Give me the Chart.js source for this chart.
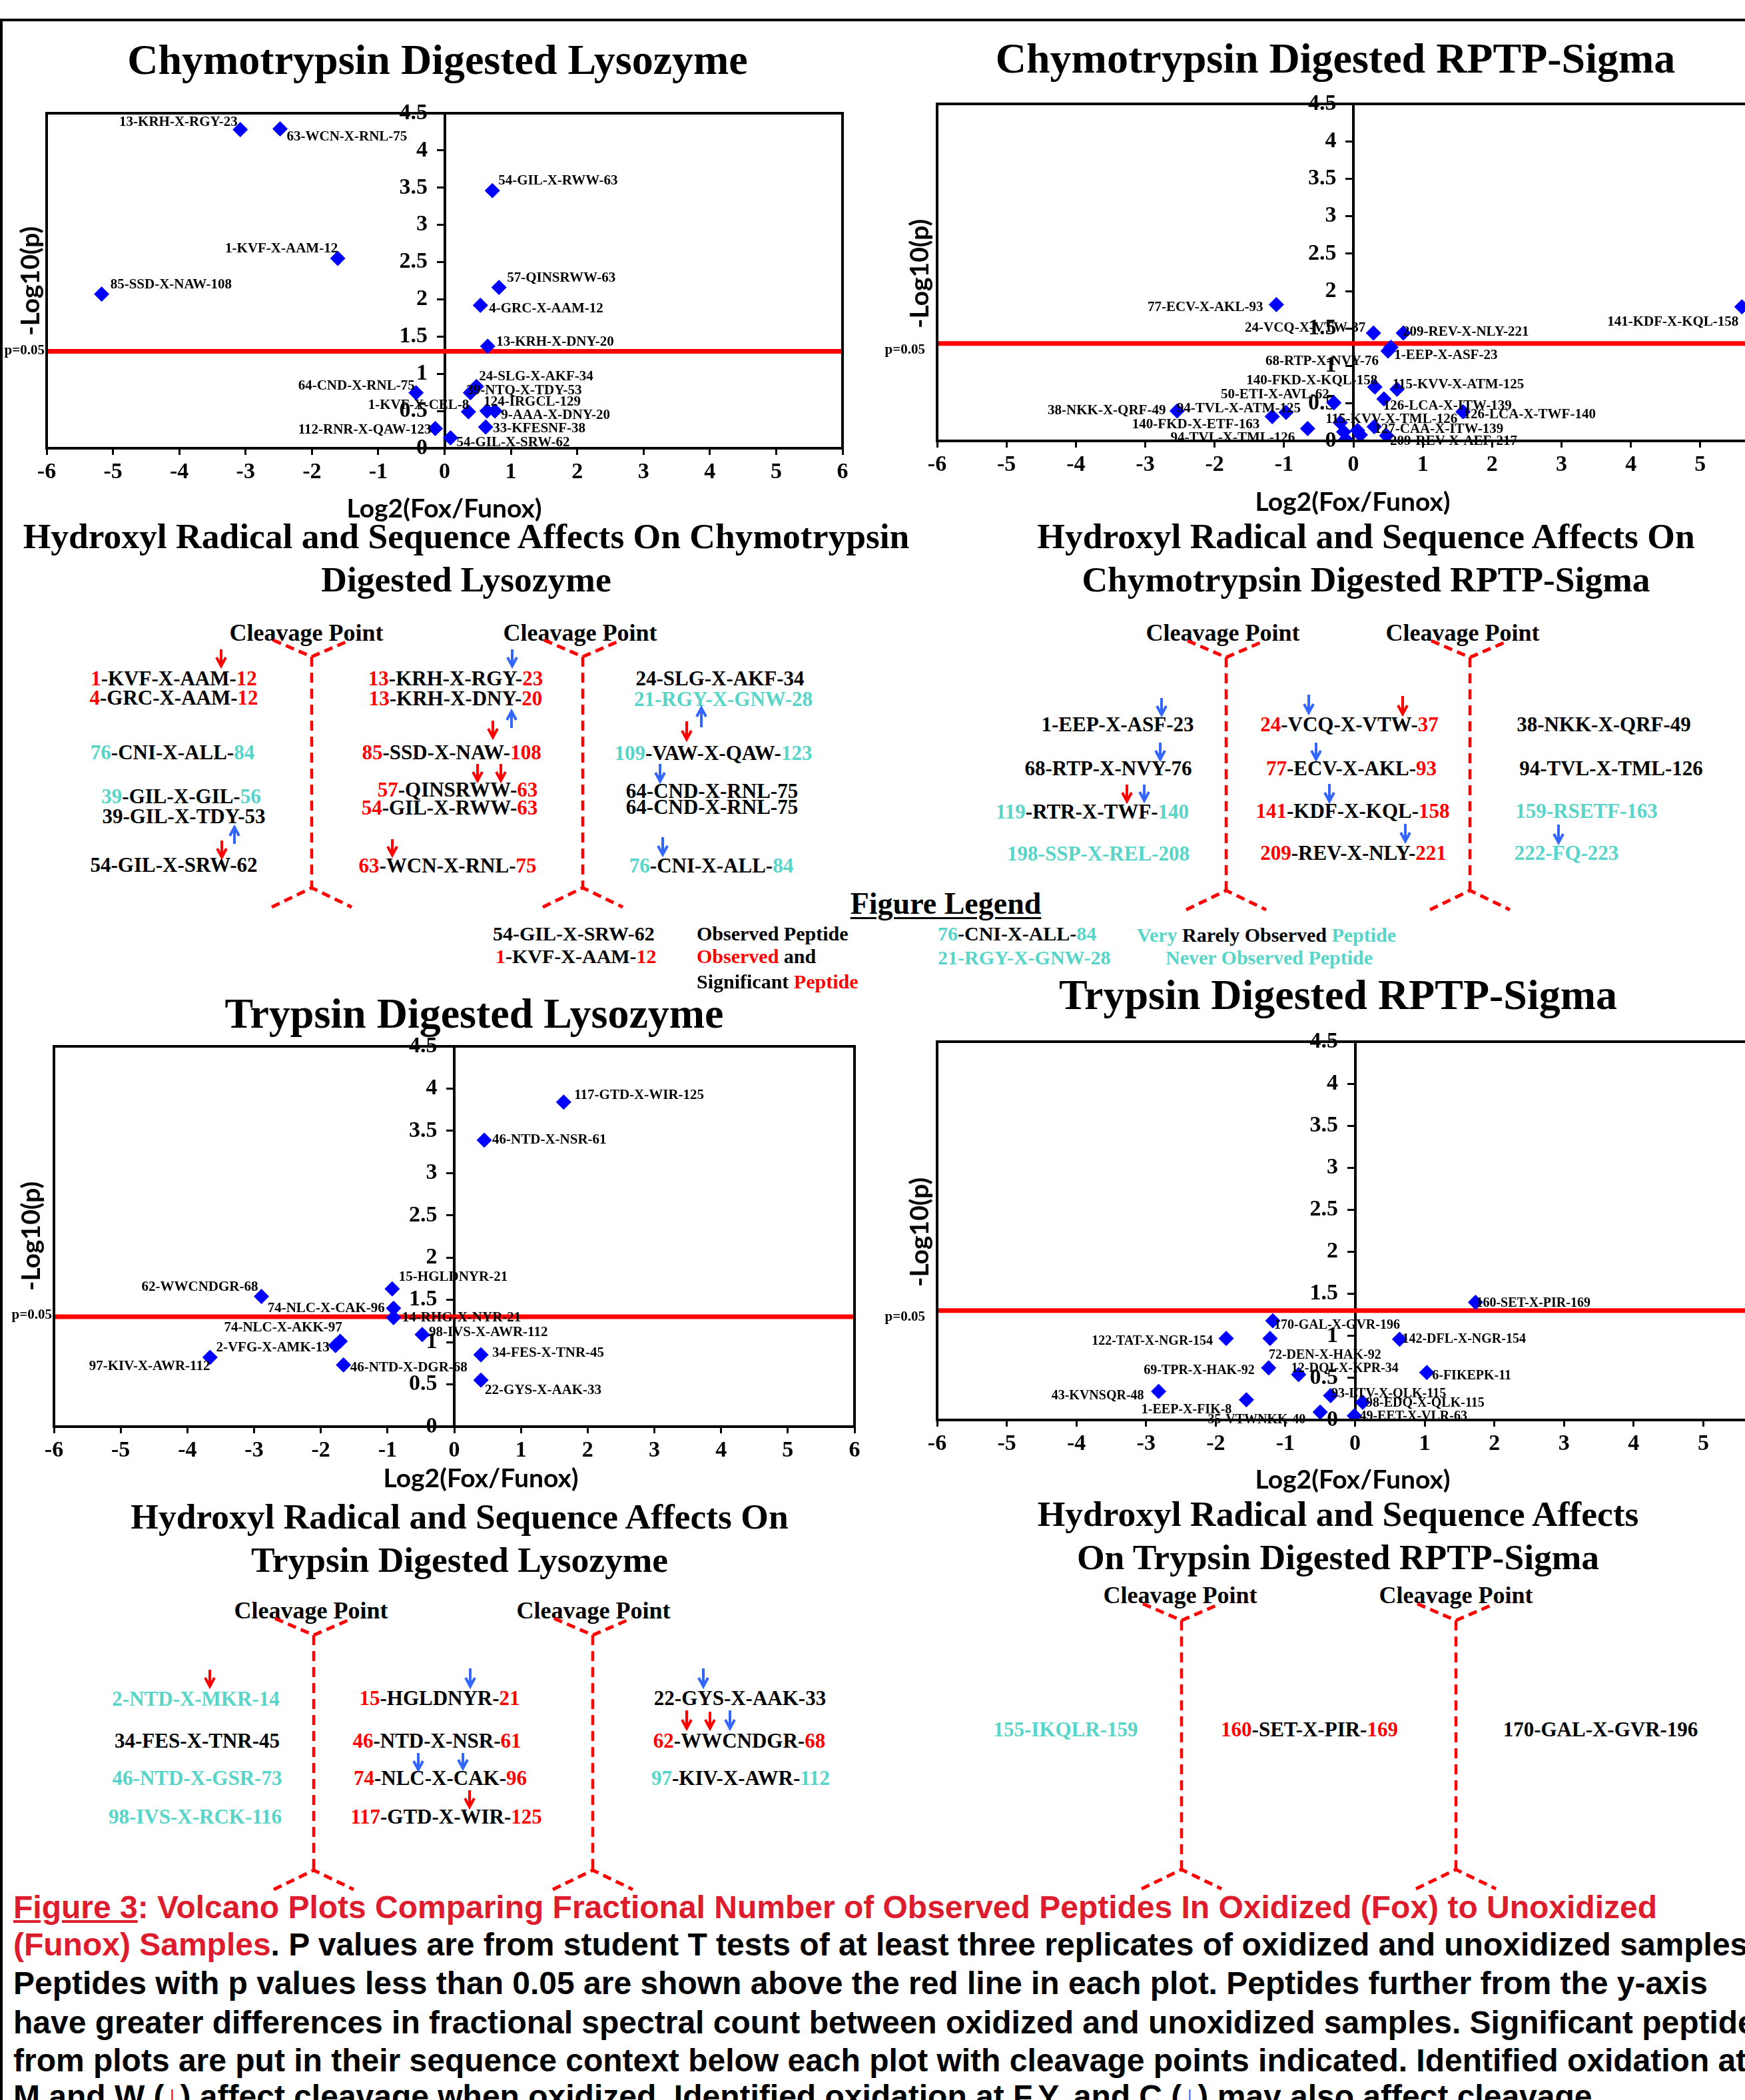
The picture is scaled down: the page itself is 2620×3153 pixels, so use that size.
<!DOCTYPE html>
<html>
<head>
<meta charset="utf-8">
<script src="https://cdn.jsdelivr.net/npm/chart.js@4.4.1/dist/chart.umd.min.js"></script>
<style>
html, body { margin: 0; padding: 0; overflow: hidden; background: #fff; }
#page { position: relative; width: 2620px; height: 3153px; overflow: hidden; background: #fff; }
.t { position: absolute; white-space: nowrap; font-family: "Liberation Serif", "Times New Roman", serif; font-weight: bold; line-height: 1; color: #000; }
.r { color: #ff0000; }
.c { color: #58d5c9; }
.cap { position: absolute; left: 20px; white-space: nowrap; font-family: "Liberation Sans", Arial, sans-serif; font-weight: bold; line-height: 1; color: #000; transform: translateY(-50%); }
.cr { color: #dd1c2e; }
canvas { position: absolute; }
#ov { position: absolute; left: 0; top: 0; }
</style>
</head>
<body>
<div id="page">
  <div style="position:absolute;left:0;top:28px;width:2620px;height:4px;background:#000"></div>
  <div style="position:absolute;left:0;top:28px;width:4px;height:3130px;background:#000"></div>
</div>
<script>
// threshold line, p = 0.05
const P05 = -Math.log10(0.05);

// Chymotrypsin digested lysozyme
const tlNames = ['13-KRH-X-RGY-23', '63-WCN-X-RNL-75', '1-KVF-X-AAM-12', '85-SSD-X-NAW-108', '64-CND-X-RNL-75',
  '112-RNR-X-QAW-123', '54-GIL-X-SRW-62', '54-GIL-X-RWW-63', '57-QINSRWW-63', '4-GRC-X-AAM-12', '13-KRH-X-DNY-20',
  '24-SLG-X-AKF-34', '39-NTQ-X-TDY-53', '1-KVF-X-CEL-8', '124-IRGCL-129', '9-AAA-X-DNY-20', '33-KFESNF-38'];
const tlX = [-3.08, -2.48, -1.61, -5.17, -0.43, -0.14, 0.09, 0.72, 0.82, 0.54, 0.65, 0.48, 0.39, 0.36, 0.64, 0.76, 0.62];
const tlY = [4.28, 4.29, 2.55, 2.07, 0.745, 0.265, 0.14, 3.46, 2.16, 1.92, 1.37, 0.83, 0.745, 0.49, 0.50, 0.50, 0.285];

// Chymotrypsin digested RPTP-Sigma
const trNames = ['77-ECV-X-AKL-93', '38-NKK-X-QRF-49', '94-TVL-X-ATM-125', '140-FKD-X-ETF-163', '94-TVL-X-TML-126',
  '50-ETI-X-AVL-62', '140-FKD-X-KQL-158', '115-KVV-X-ATM-125', '68-RTP-X-NVY-76', '1-EEP-X-ASF-23', '24-VCQ-X-VTW-37',
  '209-REV-X-NLY-221', '141-KDF-X-KQL-158', '126-LCA-X-ITW-139', '126-LCA-X-TWF-140', '115-KVV-X-TML-126',
  '127-CAA-X-ITW-139', '209-REV-X-AEF-217', '', '', '', ''];
const trX = [-1.11, -2.54, -0.97, -1.17, -0.66, -0.28, 0.31, 0.63, 0.50, 0.54, 0.29, 0.72, 5.60, 0.44, 1.58, -0.19, 0.30, 0.48, -0.14, -0.11, 0.06, 0.10];
const trY = [1.82, 0.40, 0.38, 0.325, 0.165, 0.51, 0.72, 0.69, 1.20, 1.25, 1.44, 1.44, 1.79, 0.56, 0.39, 0.245, 0.19, 0.07, 0.12, 0.02, 0.14, 0.08];

// Trypsin digested lysozyme
const blNames = ['62-WWCNDGR-68', '74-NLC-X-CAK-96', '15-HGLDNYR-21', '14-RHG-X-NYR-21', '98-IVS-X-AWR-112',
  '74-NLC-X-AKK-97', '2-VFG-X-AMK-13', '97-KIV-X-AWR-112', '46-NTD-X-DGR-68', '117-GTD-X-WIR-125', '46-NTD-X-NSR-61',
  '34-FES-X-TNR-45', '22-GYS-X-AAK-33'];
const blX = [-2.89, -0.91, -0.93, -0.91, -0.48, -1.71, -1.78, -3.66, -1.66, 1.64, 0.45, 0.40, 0.40];
const blY = [1.54, 1.40, 1.63, 1.29, 1.09, 1.01, 0.96, 0.82, 0.73, 3.84, 3.39, 0.85, 0.55];

// Trypsin digested RPTP-Sigma
const brNames = ['170-GAL-X-GVR-196', '122-TAT-X-NGR-154', '72-DEN-X-HAK-92', '69-TPR-X-HAK-92', '12-DQI-X-KPR-34',
  '43-KVNSQR-48', '1-EEP-X-FIK-8', '35-VTWNKK-40', '93-LTV-X-QLK-115', '160-SET-X-PIR-169', '142-DFL-X-NGR-154',
  '6-FIKEPK-11', '98-EDQ-X-QLK-115', '49-EET-X-VLR-63'];
const brX = [-1.18, -1.85, -1.22, -1.24, -0.81, -2.82, -1.56, -0.50, -0.35, 1.73, 0.64, 1.03, 0.11, -0.01];
const brY = [1.18, 0.97, 0.97, 0.62, 0.54, 0.34, 0.24, 0.094, 0.29, 1.40, 0.96, 0.565, 0.21, 0.05];

const xTicks = { min: -6, max: 6, step: 1 };
const yTicks = { min: 0, max: 4.5, step: 0.5 };

// label placement next to each point: [dx, dy, side]  (side 'l' = text left of point)
const tlLabelPos = [[-4,-11,'l'],[10,12,'r'],[0,-14,'l'],[13,-14,'r'],[-2,-10,'l'],[-6,2,'l'],[9,7,'r'],[9,-15,'r'],
  [12,-14,'r'],[13,5,'r'],[13,-6,'r'],[4,-15,'r'],[-6,-3,'r'],[1,-10,'l'],[-5,-14,'r'],[9,6,'r'],[11,2,'r']];
const trLabelPos = [[-20,4,'l'],[-17,0,'l'],[22,-6,'l'],[-19,12,'l'],[-19,14,'l'],[-7,-12,'l'],[4,-9,'l'],[-7,-7,'r'],
  [-14,16,'l'],[5,12,'r'],[-12,-8,'l'],[-1,-2,'r'],[-5,23,'l'],[-1,11,'r'],[1,4,'r'],[-22,-5,'r'],[0,4,'r'],[5,8,'r'],
  null, null, null, null];
const blLabelPos = [[-5,-14,'l'],[-13,0,'l'],[10,-18,'r'],[13,0,'r'],[10,-3,'r'],[3,-20,'l'],[-9,3,'l'],[0,14,'l'],
  [10,4,'r'],[16,-10,'r'],[12,0,'r'],[17,-3,'r'],[6,15,'r']];
const brLabelPos = [[2,7,'r'],[-20,4,'l'],[-2,25,'r'],[-21,4,'l'],[-11,-9,'r'],[-22,7,'l'],[-22,15,'l'],[-22,12,'l'],
  [1,-3,'r'],[1,2,'r'],[4,0,'r'],[8,5,'r'],[5,1,'r'],[8,1,'r']];

const page = document.getElementById('page');

function decoPlugin(names, pos, cfg) {
  return {
    id: 'volcanoDeco',
    afterDatasetsDraw(chart) {
      const { ctx, chartArea: a } = chart;
      const px = x => x - cfg.box.left + a.left;
      const py = y => y - cfg.box.top + a.top;
      ctx.save();
      ctx.strokeStyle = '#000';
      ctx.lineWidth = 4;
      ctx.strokeRect(a.left, a.top, a.right - a.left, a.bottom - a.top);
      ctx.fillStyle = '#000';
      ctx.textBaseline = 'middle';
      ctx.font = 'bold ' + cfg.labelSize + 'px "Liberation Serif"';
      const pts = chart.getDatasetMeta(0).data;
      names.forEach((n, i) => {
        if (!n || !pos[i]) return;
        const [dx, dy, side] = pos[i];
        ctx.textAlign = side === 'l' ? 'right' : 'left';
        ctx.fillText(n, pts[i].x + dx, pts[i].y + dy);
      });
      ctx.font = 'bold 21px "Liberation Serif"';
      ctx.textAlign = 'right';
      ctx.fillText('p=0.05', px(cfg.pLabel.x), py(cfg.pLabel.y));
      ctx.font = 'bold 39px Lato';
      ctx.textAlign = 'center';
      ctx.fillText('Log2(Fox/Funox)', px(cfg.xTitle.x), py(cfg.xTitle.y));
      ctx.translate(px(cfg.yTitle.x), py(cfg.yTitle.y));
      ctx.rotate(-Math.PI / 2);
      ctx.fillText('-Log10(p)', 0, 0);
      ctx.restore();
    }
  };
}

function volcano(names, xs, ys, pos, cfg) {
  const c = document.createElement('canvas');
  const padL = cfg.box.left - cfg.canvasLeft, padT = 40, padR = 25, axisH = 58;
  const padB = cfg.xTitle.y + 30 - (cfg.box.bottom + axisH);
  const W = padL + (cfg.box.right - cfg.box.left) + padR;
  const H = padT + (cfg.box.bottom - cfg.box.top) + axisH + padB;
  c.width = W;
  c.height = H;
  c.style.left = cfg.canvasLeft + 'px';
  c.style.top = (cfg.box.top - padT) + 'px';
  page.appendChild(c);
  const tickFont = { family: '"Liberation Serif"', weight: 'bold', size: 34 };
  const chart = new Chart(c, {
    type: 'scatter',
    data: {
      datasets: [
        {
          type: 'scatter',
          data: xs.map((x, i) => ({ x: x, y: ys[i] })),
          pointStyle: 'rectRot',
          pointRadius: 11,
          backgroundColor: '#0000ff',
          borderColor: '#0000ff',
          borderWidth: 1,
          order: 0
        },
        {
          type: 'line',
          data: [{ x: xTicks.min, y: P05 }, { x: xTicks.max, y: P05 }],
          borderColor: '#ff0000',
          borderWidth: 7,
          pointRadius: 0,
          order: 1
        }
      ]
    },
    options: {
      responsive: false,
      maintainAspectRatio: false,
      animation: false,
      devicePixelRatio: 1,
      layout: { padding: { left: padL, top: padT, right: padR, bottom: padB } },
      plugins: { legend: { display: false }, tooltip: { enabled: false } },
      scales: {
        x: {
          type: 'linear', position: 'bottom', min: xTicks.min, max: xTicks.max,
          ticks: { stepSize: xTicks.step, font: tickFont, color: '#000', padding: 6, maxRotation: 0, autoSkip: false, callback: v => String(v) },
          grid: { drawOnChartArea: false, tickLength: 10, color: '#000', lineWidth: 3 },
          border: { color: '#000', width: 4 },
          afterFit(s) { s.height = axisH; }
        },
        y: {
          type: 'linear', position: { x: 0 }, min: yTicks.min, max: yTicks.max,
          ticks: { stepSize: yTicks.step, font: tickFont, color: '#000', autoSkip: false, callback: v => v + '   ' },
          grid: { drawOnChartArea: false, tickLength: 10, color: '#000', lineWidth: 3 },
          border: { color: '#000', width: 4 }
        }
      }
    },
    plugins: [decoPlugin(names, pos, cfg)]
  });
  const a = chart.chartArea;
  c.style.left = (cfg.box.left - a.left) + 'px';
  c.style.top = (cfg.box.top - a.top) + 'px';
}

volcano(tlNames, tlX, tlY, tlLabelPos, {
  canvasLeft: 0, box: { left: 70, top: 170, right: 1265, bottom: 673 },
  yTitle: { x: 46, y: 422 }, xTitle: { x: 667, y: 764 }, pLabel: { x: 67, y: 527 }, labelSize: 21
});
volcano(trNames, trX, trY, trLabelPos, {
  canvasLeft: 1300, box: { left: 1407, top: 156, right: 2657, bottom: 662 },
  yTitle: { x: 1381, y: 411 }, xTitle: { x: 2031, y: 754 }, pLabel: { x: 1389, y: 526 }, labelSize: 21
});
volcano(blNames, blX, blY, blLabelPos, {
  canvasLeft: 0, box: { left: 81, top: 1571, right: 1283, bottom: 2142 },
  yTitle: { x: 47, y: 1856 }, xTitle: { x: 722, y: 2220 }, pLabel: { x: 78, y: 1975 }, labelSize: 21
});
volcano(brNames, brX, brY, brLabelPos, {
  canvasLeft: 1300, box: { left: 1407, top: 1564, right: 2662, bottom: 2132 },
  yTitle: { x: 1381, y: 1850 }, xTitle: { x: 2031, y: 2222 }, pLabel: { x: 1389, y: 1978 }, labelSize: 20
});

// ---- text ----
function put(x, y, html, size, align, extra) {
  const d = document.createElement('div');
  d.className = 't';
  d.style.fontSize = size + 'px';
  d.style.left = x + 'px';
  d.style.top = y + 'px';
  const tx = align === 'l' ? '0' : align === 'r' ? '-100%' : '-50%';
  d.style.transform = 'translate(' + tx + ', -50%)';
  if (extra) d.style.cssText += extra;
  d.innerHTML = html;
  page.appendChild(d);
}
// a-mid-b with coloured ends
function S(a, mid, b, cl) {
  return '<span class="' + cl + '">' + a + '</span>' + mid + '<span class="' + cl + '">' + b + '</span>';
}
const C = s => '<span class="c">' + s + '</span>';

put(657, 90, 'Chymotrypsin Digested Lysozyme', 64);
put(2005, 88, 'Chymotrypsin Digested RPTP-Sigma', 64);
put(712, 1522, 'Trypsin Digested Lysozyme', 64);
put(2009, 1494, 'Trypsin Digested RPTP-Sigma', 64);

put(700, 806, 'Hydroxyl Radical and Sequence Affects On Chymotrypsin', 53.5);
put(700, 871, 'Digested Lysozyme', 53.5);
put(2051, 806, 'Hydroxyl Radical and Sequence Affects On', 53.5);
put(2051, 871, 'Chymotrypsin Digested RPTP-Sigma', 53.5);
put(690, 2278, 'Hydroxyl Radical and Sequence Affects On', 53.5);
put(690, 2343, 'Trypsin Digested Lysozyme', 53.5);
put(2009, 2274, 'Hydroxyl Radical and Sequence Affects', 53.5);
put(2009, 2339, 'On Trypsin Digested RPTP-Sigma', 53.5);

[[460, 950], [871, 950], [1836, 950], [2196, 950], [467, 2418], [891, 2418], [1772, 2395], [2186, 2395]]
  .forEach(p => put(p[0], p[1], 'Cleavage Point', 36));

const seqs = [
  // chymotrypsin lysozyme
  [261, 1018, S('1', '-KVF-X-AAM-', '12', 'r')],
  [261, 1047, S('4', '-GRC-X-AAM-', '12', 'r')],
  [259, 1129, S('76', '-CNI-X-ALL-', '84', 'c')],
  [272, 1195, S('39', '-GIL-X-GIL-', '56', 'c')],
  [276, 1225, '39-GIL-X-TDY-53'],
  [261, 1298, '54-GIL-X-SRW-62'],
  [684, 1018, S('13', '-KRH-X-RGY-', '23', 'r')],
  [684, 1048, S('13', '-KRH-X-DNY-', '20', 'r')],
  [678, 1129, S('85', '-SSD-X-NAW-', '108', 'r')],
  [687, 1185, S('57', '-QINSRWW-', '63', 'r')],
  [675, 1212, S('54', '-GIL-X-RWW-', '63', 'r')],
  [672, 1299, S('63', '-WCN-X-RNL-', '75', 'r')],
  [1081, 1018, '24-SLG-X-AKF-34'],
  [1086, 1049, C('21-RGY-X-GNW-28')],
  [1071, 1130, S('109', '-VAW-X-QAW-', '123', 'c')],
  [1069, 1187, '64-CND-X-RNL-75'],
  [1069, 1211, '64-CND-X-RNL-75'],
  [1068, 1299, S('76', '-CNI-X-ALL-', '84', 'c')],
  // chymotrypsin RPTP-Sigma
  [1678, 1087, '1-EEP-X-ASF-23'],
  [1664, 1153, '68-RTP-X-NVY-76'],
  [1640, 1218, S('119', '-RTR-X-TWF-', '140', 'c')],
  [1649, 1281, C('198-SSP-X-REL-208')],
  [2026, 1087, S('24', '-VCQ-X-VTW-', '37', 'r')],
  [2029, 1153, S('77', '-ECV-X-AKL-', '93', 'r')],
  [2031, 1217, S('141', '-KDF-X-KQL-', '158', 'r')],
  [2032, 1280, S('209', '-REV-X-NLY-', '221', 'r')],
  [2408, 1087, '38-NKK-X-QRF-49'],
  [2419, 1153, '94-TVL-X-TML-126'],
  [2382, 1217, C('159-RSETF-163')],
  [2352, 1280, C('222-FQ-223')],
  // trypsin lysozyme
  [294, 2550, C('2-NTD-X-MKR-14')],
  [296, 2613, '34-FES-X-TNR-45'],
  [296, 2669, C('46-NTD-X-GSR-73')],
  [293, 2727, C('98-IVS-X-RCK-116')],
  [660, 2549, S('15', '-HGLDNYR-', '21', 'r')],
  [656, 2613, S('46', '-NTD-X-NSR-', '61', 'r')],
  [661, 2669, S('74', '-NLC-X-CAK-', '96', 'r')],
  [670, 2727, S('117', '-GTD-X-WIR-', '125', 'r')],
  [1111, 2549, '22-GYS-X-AAK-33'],
  [1110, 2613, S('62', '-WWCNDGR-', '68', 'r')],
  [1112, 2669, S('97', '-KIV-X-AWR-', '112', 'c')],
  // trypsin RPTP-Sigma
  [1600, 2596, C('155-IKQLR-159')],
  [1966, 2596, S('160', '-SET-X-PIR-', '169', 'r')],
  [2403, 2596, '170-GAL-X-GVR-196']
];
seqs.forEach(s => put(s[0], s[1], s[2], 31));

// legend
put(1420, 1357, 'Figure Legend', 46, 'c', 'text-decoration:underline;text-decoration-thickness:3px;text-underline-offset:5px;');
put(740, 1402, '54-GIL-X-SRW-62', 30, 'l');
put(744, 1436, S('1', '-KVF-X-AAM-', '12', 'r'), 30, 'l');
put(1046, 1402, 'Observed Peptide', 30, 'l');
put(1046, 1436, '<span class="r">Observed</span> and', 30, 'l');
put(1046, 1474, 'Significant <span class="r">Peptide</span>', 30, 'l');
put(1408, 1402, S('76', '-CNI-X-ALL-', '84', 'c'), 30, 'l');
put(1408, 1438, C('21-RGY-X-GNW-28'), 30, 'l');
put(1707, 1404, '<span class="c">Very</span> Rarely Observed <span class="c">Peptide</span>', 30, 'l');
put(1750, 1438, C('Never Observed Peptide'), 30, 'l');

// caption
const capLines = [
  '<span class="cr"><u>Figure 3</u>: Volcano Plots Comparing Fractional Number of Observed Peptides In Oxidized (Fox) to Unoxidized</span>',
  '<span class="cr">(Funox) Samples</span>. P values are from student T tests of at least three replicates of oxidized and unoxidized samples.',
  'Peptides with p values less than 0.05 are shown above the red line in each plot. Peptides further from the y-axis',
  'have greater differences in fractional spectral count between oxidized and unoxidized samples. Significant peptides',
  'from plots are put in their sequence context below each plot with cleavage points indicated. Identified oxidation at',
  'M and W (<span style="color:#ff0000">&#8595;</span>) affect cleavage when oxidized. Identified oxidation at F,Y, and C (<span style="color:#3366ff">&#8595;</span>) may also affect cleavage.'
];
const capY = [2864, 2920, 2978, 3037, 3094, 3148];
const mctx = document.createElement('canvas').getContext('2d');
mctx.font = 'bold 100px "Liberation Sans"';
const capSize = 100 * 2468 / mctx.measureText('Figure 3: Volcano Plots Comparing Fractional Number of Observed Peptides In Oxidized (Fox) to Unoxidized').width;
capLines.forEach((h, i) => {
  const d = document.createElement('div');
  d.className = 'cap';
  d.style.top = capY[i] + 'px';
  d.style.fontSize = capSize.toFixed(2) + 'px';
  d.innerHTML = h;
  page.appendChild(d);
});

// ---- cleavage lines and arrows ----
const NS = 'http://www.w3.org/2000/svg';
const svg = document.createElementNS(NS, 'svg');
svg.setAttribute('id', 'ov');
svg.setAttribute('width', 2620);
svg.setAttribute('height', 3153);
page.appendChild(svg);
function path(d, color, w, dash) {
  const p = document.createElementNS(NS, 'path');
  p.setAttribute('d', d);
  p.setAttribute('fill', 'none');
  p.setAttribute('stroke', color);
  p.setAttribute('stroke-width', w);
  if (dash) p.setAttribute('stroke-dasharray', dash);
  svg.appendChild(p);
}
const cleavages = [[468, 986, 1333], [875, 986, 1333], [1841, 987, 1337], [2207, 987, 1337],
  [471, 2455, 2808], [890, 2455, 2808], [1774, 2433, 2807], [2186, 2433, 2807]];
cleavages.forEach(([x, t, b]) => {
  path(`M${x} ${t} L${x} ${b}`, '#ff0000', 4.5, '15 9');
  path(`M${x - 58} ${t - 25} L${x} ${t} L${x + 58} ${t - 25}`, '#ff0000', 5, '13 8');
  path(`M${x - 60} ${b + 29} L${x} ${b} L${x + 60} ${b + 29}`, '#ff0000', 5, '13 8');
});
const RED = '#ff0000', BLUE = '#3366ff';
const arrows = [
  [332, 975, 1000, RED, 'd'], [333, 1262, 1287, RED, 'd'], [352, 1242, 1267, BLUE, 'u'],
  [769, 975, 1000, BLUE, 'd'], [740, 1082, 1107, RED, 'd'], [768, 1068, 1093, BLUE, 'u'],
  [717, 1147, 1172, RED, 'd'], [752, 1147, 1172, RED, 'd'], [589, 1260, 1284, RED, 'd'],
  [1053, 1063, 1092, BLUE, 'u'], [1031, 1083, 1110, RED, 'd'], [991, 1147, 1173, BLUE, 'd'], [995, 1257, 1283, BLUE, 'd'],
  [1744, 1048, 1073, BLUE, 'd'], [1742, 1115, 1140, BLUE, 'd'], [1692, 1178, 1203, RED, 'd'], [1718, 1178, 1202, BLUE, 'd'],
  [1965, 1043, 1070, BLUE, 'd'], [2106, 1045, 1072, RED, 'd'], [1976, 1115, 1140, BLUE, 'd'], [1996, 1177, 1203, BLUE, 'd'],
  [2110, 1237, 1263, BLUE, 'd'], [2340, 1238, 1265, BLUE, 'd'],
  [315, 2507, 2532, RED, 'd'], [706, 2505, 2532, BLUE, 'd'], [628, 2632, 2657, BLUE, 'd'], [695, 2632, 2655, BLUE, 'd'],
  [705, 2688, 2713, RED, 'd'], [1056, 2505, 2532, BLUE, 'd'], [1031, 2568, 2595, RED, 'd'], [1066, 2570, 2595, RED, 'd'],
  [1096, 2568, 2595, BLUE, 'd']
];
arrows.forEach(([x, y1, y2, col, dir]) => {
  path(`M${x} ${y1} L${x} ${y2}`, col, 4);
  if (dir === 'd') path(`M${x - 7} ${y2 - 13} L${x} ${y2} L${x + 7} ${y2 - 13}`, col, 4);
  else path(`M${x - 7} ${y1 + 13} L${x} ${y1} L${x + 7} ${y1 + 13}`, col, 4);
});
</script>
</body>
</html>
